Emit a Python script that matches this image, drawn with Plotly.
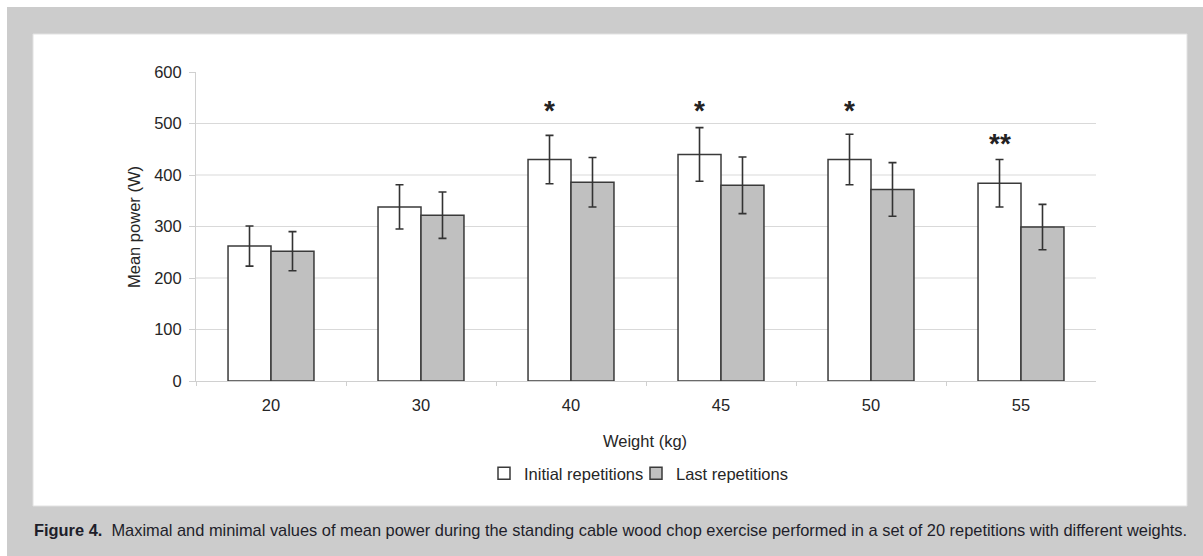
import plotly.graph_objects as go

# Data: mean power (W) per load, with standard deviations
weights = ["20", "30", "40", "45", "50", "55"]
initial_mean = [262, 338, 430, 440, 430, 384]
initial_sd = [39, 43, 47, 52, 49, 46]
last_mean = [252, 322, 386, 380, 372, 299]
last_sd = [38, 45, 48, 55, 52, 44]

# Significance markers above the initial-repetition bars
sig_labels = ["", "", "*", "*", "*", "**"]
sig_y = [0, 0, 525, 525, 525, 461]

y_ticks = [0, 100, 200, 300, 400, 500, 600]
grid_levels = [100, 200, 300, 400, 500]

W, H = 1203, 556
FONT = "Liberation Sans, Arial, sans-serif"
TXT = "#262626"
FS = 16.5


def px(x):
    return x / W


def py(y):
    return 1 - y / H


fig = go.Figure()

fig.add_trace(go.Bar(
    x=weights, y=initial_mean, name="Initial repetitions",
    marker=dict(color="white", line=dict(color="#3a3a3a", width=1.5)),
    error_y=dict(type="data", array=initial_sd, visible=True,
                 color="#333333", thickness=1.6, width=4),
))
fig.add_trace(go.Bar(
    x=weights, y=last_mean, name="Last repetitions",
    marker=dict(color="#c0c0c0", line=dict(color="#3a3a3a", width=1.5)),
    error_y=dict(type="data", array=last_sd, visible=True,
                 color="#333333", thickness=1.6, width=4),
))

shapes = [
    # grey page background and white figure panel
    dict(type="rect", xref="paper", yref="paper", x0=px(7), x1=1, y0=0, y1=py(7),
         fillcolor="#cccccc", line=dict(width=0), layer="below"),
    dict(type="rect", xref="paper", yref="paper", x0=px(33), x1=px(1187),
         y0=py(506), y1=py(34), fillcolor="white",
         line=dict(color="#e2e2e2", width=1), layer="below"),
]
# horizontal gridlines (no line at the top of the axis)
for g in grid_levels:
    shapes.append(dict(type="line", xref="x domain", yref="y", x0=0, x1=1, y0=g, y1=g,
                       line=dict(color="#d9d9d9", width=1), layer="below"))

annotations = [
    dict(text="Mean power (W)", xref="paper", yref="paper", x=px(134), y=py(227),
         textangle=-90, showarrow=False, font=dict(size=FS, color=TXT, family=FONT),
         xanchor="center", yanchor="middle"),
    dict(text="Weight (kg)", xref="paper", yref="paper", x=px(645), y=py(441),
         showarrow=False, font=dict(size=FS, color=TXT, family=FONT),
         xanchor="center", yanchor="middle"),
    dict(text="<b>Figure 4.</b>  Maximal and minimal values of mean power during the standing "
              "cable wood chop exercise performed in a set of 20 repetitions with different weights.",
         xref="paper", yref="paper", x=px(32), y=py(530), showarrow=False,
         font=dict(size=16.4, color="#1e1e2a", family=FONT), xanchor="left", yanchor="middle"),
]
for i, (lab, yy) in enumerate(zip(sig_labels, sig_y)):
    if lab:
        annotations.append(dict(
            text="<b>" + lab + "</b>", x=i, y=yy, xref="x", yref="y", xshift=-21.5,
            showarrow=False, font=dict(size=28, color="#222222", family=FONT),
            xanchor="center", yanchor="middle"))

fig.update_layout(
    template="none",
    width=W, height=H,
    autosize=False,
    margin=dict(l=0, r=0, t=0, b=0, pad=0, autoexpand=False),
    paper_bgcolor="white",
    plot_bgcolor="rgba(0,0,0,0)",
    barmode="group",
    bargap=0.427,
    bargroupgap=0,
    font=dict(family=FONT, size=FS, color=TXT),
    shapes=shapes,
    annotations=annotations,
    showlegend=True,
    legend=dict(orientation="h", x=px(484), y=py(473.5), xanchor="left", yanchor="middle",
                font=dict(size=FS, color=TXT, family=FONT), bgcolor="rgba(0,0,0,0)",
                itemwidth=30, tracegroupgap=0,
                entrywidth=107, entrywidthmode="pixels"),
    xaxis=dict(
        domain=[px(196), px(1096)],
        type="category",
        range=[-0.5, len(weights) - 0.5],
        autorange=False,
        automargin=False,
        tickangle=0,
        showline=True, linecolor="#d0d0d0", linewidth=1,
        ticks="outside", tickson="boundaries", ticklen=4, tickcolor="#d0d0d0",
        ticklabelstandoff=9,
        showgrid=False, zeroline=False,
        tickfont=dict(size=FS, color=TXT, family=FONT),
    ),
    yaxis=dict(
        domain=[py(381), py(72)],
        range=[0, 600],
        autorange=False,
        automargin=False,
        tickvals=y_ticks,
        showline=True, linecolor="#d0d0d0", linewidth=1,
        ticks="outside", ticklen=6, tickcolor="#d0d0d0",
        ticklabelstandoff=4,
        showgrid=False, zeroline=False,
        tickfont=dict(size=FS, color=TXT, family=FONT),
    ),
)

fig.write_html("out.html")
